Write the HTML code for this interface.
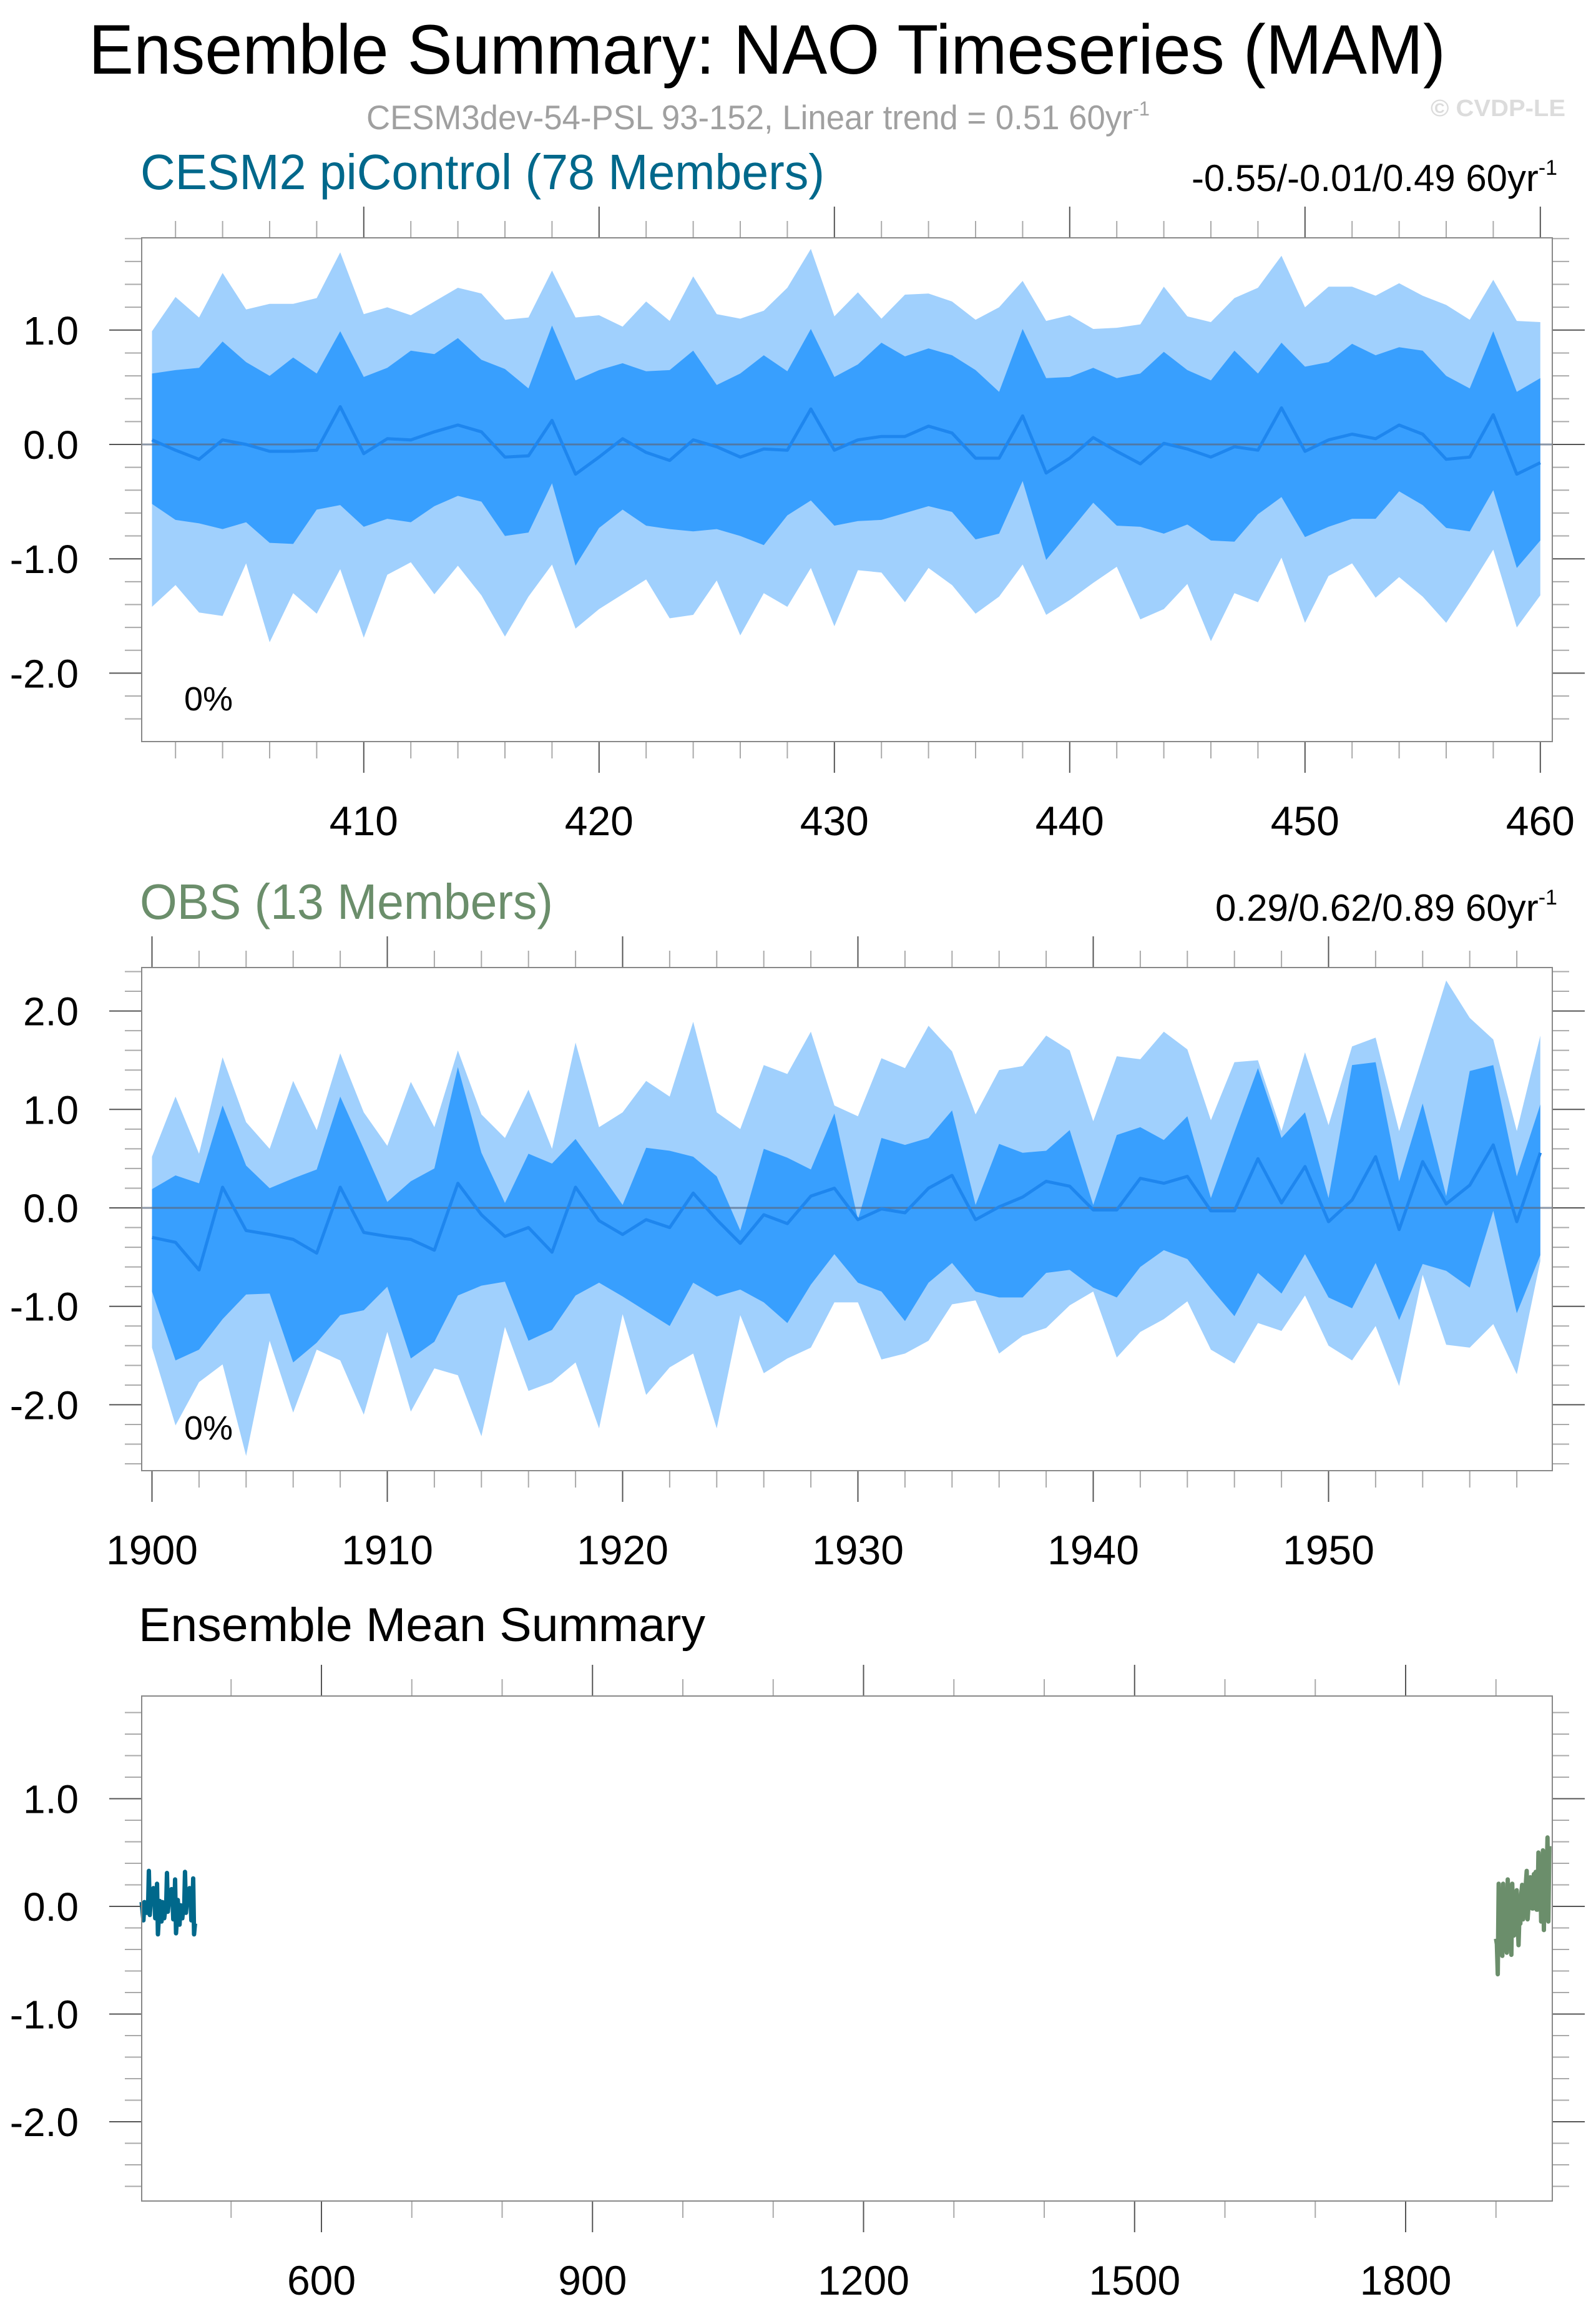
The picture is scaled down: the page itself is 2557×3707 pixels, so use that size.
<!DOCTYPE html>
<html><head><meta charset="utf-8">
<style>
html,body{margin:0;padding:0;background:#fff;}
svg{display:block;font-family:"Liberation Sans",sans-serif;}
</style></head>
<body>
<svg id="chart" width="2557" height="3707" viewBox="0 0 2557 3707" xmlns="http://www.w3.org/2000/svg">
<text x="142" y="118" font-size="112" textLength="2174" lengthAdjust="spacingAndGlyphs">Ensemble Summary: NAO Timeseries (MAM)</text>
<text x="587" y="207" font-size="55" fill="#a0a0a0" textLength="1255" lengthAdjust="spacingAndGlyphs">CESM3dev-54-PSL 93-152, Linear trend = 0.51 60yr<tspan dy="-22" font-size="32">-1</tspan></text>
<text x="2292" y="186" font-size="38" font-weight="bold" fill="#dcdcdc" textLength="216" lengthAdjust="spacingAndGlyphs">© CVDP-LE</text>

<text x="225" y="303" font-size="80" fill="#00688b" textLength="1096" lengthAdjust="spacingAndGlyphs">CESM2 piControl (78 Members)</text>
<text x="1909" y="306" font-size="60" fill="#000" textLength="586" lengthAdjust="spacingAndGlyphs">-0.55/-0.01/0.49 60yr<tspan dy="-26" font-size="34">-1</tspan></text>

<text x="224" y="1472" font-size="80" fill="#6b8e6b" textLength="662" lengthAdjust="spacingAndGlyphs">OBS (13 Members)</text>
<text x="1947" y="1475" font-size="60" fill="#000" textLength="548" lengthAdjust="spacingAndGlyphs">0.29/0.62/0.89 60yr<tspan dy="-26" font-size="34">-1</tspan></text>

<text x="222" y="2629" font-size="76" fill="#000" textLength="908" lengthAdjust="spacingAndGlyphs">Ensemble Mean Summary</text>

<g id="p1"></g>
<g id="p2"></g>
<g id="p3"></g>
</svg>
<script>
// ---- CESM2 piControl data (years 401-460) ----
const cesmYears0 = 401;
const cesmMax = [0.99,1.29,1.11,1.50,1.18,1.23,1.23,1.28,1.68,1.14,1.20,1.13,1.25,1.37,1.32,1.09,1.11,1.52,1.11,1.13,1.03,1.25,1.08,1.47,1.14,1.10,1.17,1.37,1.71,1.12,1.33,1.10,1.31,1.32,1.25,1.09,1.20,1.43,1.08,1.13,1.01,1.02,1.05,1.38,1.12,1.07,1.28,1.37,1.65,1.20,1.38,1.38,1.30,1.41,1.30,1.22,1.09,1.44,1.08,1.07];
const cesmHi = [0.62,0.65,0.67,0.90,0.72,0.60,0.76,0.62,0.99,0.59,0.67,0.82,0.79,0.93,0.74,0.66,0.49,1.04,0.56,0.65,0.71,0.64,0.65,0.82,0.52,0.62,0.78,0.64,1.01,0.59,0.70,0.89,0.77,0.84,0.78,0.65,0.46,1.01,0.58,0.59,0.67,0.58,0.62,0.81,0.65,0.56,0.82,0.62,0.89,0.68,0.72,0.88,0.78,0.85,0.82,0.60,0.49,0.99,0.46,0.58];
const cesmMean = [0.04,-0.05,-0.13,0.04,0.00,-0.06,-0.06,-0.05,0.33,-0.08,0.05,0.04,0.11,0.17,0.11,-0.11,-0.10,0.21,-0.26,-0.11,0.05,-0.07,-0.14,0.04,-0.02,-0.11,-0.04,-0.05,0.31,-0.05,0.04,0.07,0.07,0.16,0.10,-0.12,-0.12,0.25,-0.25,-0.12,0.06,-0.06,-0.17,0.01,-0.04,-0.11,-0.02,-0.05,0.32,-0.06,0.04,0.09,0.05,0.17,0.09,-0.13,-0.11,0.26,-0.26,-0.16];
const cesmLo = [-0.52,-0.66,-0.69,-0.74,-0.68,-0.86,-0.87,-0.57,-0.53,-0.72,-0.65,-0.68,-0.54,-0.45,-0.50,-0.80,-0.77,-0.34,-1.06,-0.73,-0.57,-0.71,-0.74,-0.76,-0.74,-0.80,-0.88,-0.62,-0.49,-0.71,-0.67,-0.66,-0.60,-0.54,-0.59,-0.83,-0.78,-0.32,-1.01,-0.76,-0.51,-0.71,-0.72,-0.78,-0.70,-0.84,-0.85,-0.61,-0.46,-0.81,-0.72,-0.65,-0.65,-0.41,-0.53,-0.73,-0.76,-0.40,-1.08,-0.84];
const cesmMin = [-1.42,-1.23,-1.47,-1.50,-1.04,-1.73,-1.30,-1.48,-1.09,-1.69,-1.14,-1.03,-1.31,-1.06,-1.32,-1.68,-1.33,-1.05,-1.61,-1.44,-1.31,-1.18,-1.52,-1.49,-1.19,-1.67,-1.30,-1.42,-1.08,-1.59,-1.10,-1.12,-1.38,-1.08,-1.23,-1.48,-1.33,-1.05,-1.49,-1.36,-1.21,-1.07,-1.53,-1.44,-1.22,-1.72,-1.30,-1.38,-0.99,-1.56,-1.15,-1.04,-1.34,-1.16,-1.33,-1.56,-1.25,-0.92,-1.60,-1.32];
// ---- OBS data (years 1900-1959) ----
const obsYears0 = 1900;
const obsMax = [0.52,1.13,0.55,1.53,0.87,0.60,1.29,0.79,1.57,0.97,0.63,1.28,0.82,1.60,0.95,0.71,1.20,0.60,1.68,0.82,0.97,1.29,1.13,1.89,0.97,0.80,1.45,1.36,1.79,1.04,0.93,1.52,1.42,1.85,1.59,0.95,1.40,1.44,1.75,1.60,0.88,1.54,1.51,1.79,1.61,0.89,1.48,1.50,0.78,1.58,0.84,1.64,1.73,0.78,1.54,2.31,1.93,1.71,0.78,1.75];
const obsHi = [0.19,0.33,0.25,1.04,0.43,0.20,0.30,0.39,1.13,0.60,0.06,0.27,0.40,1.43,0.56,0.05,0.55,0.45,0.70,0.37,0.03,0.61,0.58,0.52,0.32,-0.23,0.60,0.51,0.39,0.96,-0.12,0.71,0.64,0.71,0.99,0.03,0.65,0.56,0.58,0.79,0.03,0.74,0.82,0.69,0.93,0.10,0.77,1.42,0.71,0.97,0.10,1.45,1.48,0.27,1.06,0.12,1.39,1.45,0.32,1.05];
const obsMean = [-0.30,-0.35,-0.63,0.21,-0.23,-0.27,-0.32,-0.46,0.21,-0.25,-0.29,-0.32,-0.43,0.25,-0.07,-0.29,-0.20,-0.45,0.21,-0.13,-0.27,-0.12,-0.20,0.15,-0.12,-0.36,-0.07,-0.16,0.12,0.20,-0.12,-0.01,-0.05,0.20,0.33,-0.12,0.01,0.11,0.27,0.22,-0.02,-0.02,0.30,0.25,0.32,-0.03,-0.03,0.50,0.05,0.42,-0.14,0.08,0.52,-0.22,0.47,0.04,0.23,0.64,-0.14,0.56];
const obsLo = [-0.85,-1.55,-1.44,-1.13,-0.88,-0.87,-1.57,-1.37,-1.09,-1.04,-0.80,-1.53,-1.36,-0.89,-0.79,-0.75,-1.35,-1.24,-0.89,-0.76,-0.90,-1.05,-1.20,-0.76,-0.90,-0.83,-0.96,-1.17,-0.78,-0.47,-0.76,-0.85,-1.15,-0.76,-0.56,-0.85,-0.91,-0.91,-0.66,-0.63,-0.81,-0.91,-0.60,-0.43,-0.52,-0.82,-1.10,-0.66,-0.87,-0.47,-0.91,-1.02,-0.56,-1.14,-0.57,-0.64,-0.81,-0.03,-1.07,-0.48];
const obsMin = [-1.42,-2.21,-1.77,-1.59,-2.52,-1.35,-2.08,-1.44,-1.55,-2.10,-1.26,-2.07,-1.63,-1.70,-2.32,-1.21,-1.86,-1.77,-1.57,-2.24,-1.08,-1.90,-1.62,-1.48,-2.24,-1.09,-1.68,-1.53,-1.42,-0.96,-0.96,-1.54,-1.48,-1.35,-0.98,-0.94,-1.48,-1.30,-1.22,-0.99,-0.85,-1.52,-1.26,-1.13,-0.95,-1.44,-1.58,-1.17,-1.25,-0.89,-1.40,-1.55,-1.20,-1.81,-0.68,-1.39,-1.42,-1.18,-1.69,-0.54];
const xTicks1 = [410,420,430,440,450,460];
const xTicks2 = [1900,1910,1920,1930,1940,1950];
const xTicks3 = [600,900,1200,1500,1800];

const NS = "http://www.w3.org/2000/svg";
function mk(parent, tag, attrs){
  const e = document.createElementNS(NS, tag);
  for (const k in attrs) e.setAttribute(k, attrs[k]);
  parent.appendChild(e);
  return e;
}
const BL = 227, BR = 2487;

function axes(g, top, bottom, yMap, yMin, yMax, xMap, xMin, xMax, xMajor, xMinorStep, xMajorStep, name){
  for (let k = Math.ceil(yMin/0.2 - 1e-6); k <= Math.floor(yMax/0.2 + 1e-6); k++){
    const v = k*0.2, y = yMap(v);
    const major = Math.abs(v - Math.round(v)) < 1e-6;
    const len = major ? 52 : 27;
    const t1 = mk(g,'line',{x1:BL-len,x2:BL,y1:y,y2:y,stroke:major?'#555':'#aaa','stroke-width':2});
    
    
    const t2 = mk(g,'line',{x1:BR,x2:BR+len,y1:y,y2:y,stroke:major?'#555':'#aaa','stroke-width':2});
    
    
    if (major){
      const r = Math.round(v);
      const lbl = (r === 0 ? 0 : r).toFixed(1);
      const tx = mk(g,'text',{x:126,y:y+23,'font-size':64,'text-anchor':'end',fill:'#000'});
      tx.textContent = lbl;
      
      
    }
  }
  for (let yr = Math.ceil(xMin/xMinorStep)*xMinorStep; yr <= xMax; yr += xMinorStep){
    const x = xMap(yr);
    if (x < BL-1 || x > BR+1) continue;
    const major = (yr % xMajorStep) === 0;
    const len = major ? 50 : 27;
    const a = mk(g,'line',{x1:x,x2:x,y1:top-len,y2:top,stroke:major?'#555':'#aaa','stroke-width':2});
    
    
    const b = mk(g,'line',{x1:x,x2:x,y1:bottom,y2:bottom+len,stroke:major?'#555':'#aaa','stroke-width':2});
    
    
  }
  xMajor.forEach(yr=>{
    const tx = mk(g,'text',{x:xMap(yr),y:bottom+150,'font-size':66,'text-anchor':'middle',fill:'#000'});
    tx.textContent = String(yr);
    
    
  });
  const box = mk(g,'rect',{x:BL,y:top,width:BR-BL,height:bottom-top,fill:'none',stroke:'#888','stroke-width':2});
  
  
}

function bandPanel(g, name, year0, mx, hi, mean, lo, mn, top, bottom, zeroY, unit, xTicks){
  const xMap = yr => 243.5 + (yr - year0) * 37.7;
  const yMap = v => zeroY - v * unit;
  const n = mean.length;
  const band = (up, dn, color, nm) => {
    let d = '';
    for (let i=0;i<n;i++) d += (i?'L':'M') + xMap(year0+i).toFixed(1) + ',' + yMap(up[i]).toFixed(1);
    for (let i=n-1;i>=0;i--) d += 'L' + xMap(year0+i).toFixed(1) + ',' + yMap(dn[i]).toFixed(1);
    const p = mk(g,'path',{d:d+'Z',fill:color});
    
    
  };
  band(mx, mn, '#a0d0fd', name+'-min-max-band');
  band(hi, lo, '#389ffe', name+'-inner-band');
  const z = mk(g,'line',{x1:BL,x2:BR,y1:yMap(0),y2:yMap(0),stroke:'#5a6a80','stroke-width':3,'stroke-opacity':0.7});
  
  
  let d='';
  for (let i=0;i<n;i++) d += (i?'L':'M') + xMap(year0+i).toFixed(1) + ',' + yMap(mean[i]).toFixed(1);
  const ml = mk(g,'path',{d:d,fill:'none',stroke:'#1e86ee','stroke-width':5,'stroke-linejoin':'round'});
  
  
  const yMin = -(bottom - zeroY)/unit, yMax = (zeroY - top)/unit;
  axes(g, top, bottom, yMap, yMin, yMax, xMap, year0, year0+60, xTicks, 2, 10, name);
  const pct = mk(g,'text',{x:295,y:bottom-50,'font-size':54,fill:'#000'});
  pct.textContent = '0%';
  
  
}

bandPanel(document.getElementById('p1'),'cesm2',cesmYears0,cesmMax,cesmHi,cesmMean,cesmLo,cesmMin,381,1188,712,183.2,xTicks1);
bandPanel(document.getElementById('p2'),'obs',obsYears0,obsMax,obsHi,obsMean,obsLo,obsMin,1550,2356,1935,157.7,xTicks2);

(function(){
  const g = document.getElementById('p3');
  const top=2717, bottom=3526, zeroY=3054, unit=172.5;
  const xMap = yr => 515 + (yr - 600) * 1.4475;
  const yMap = v => zeroY - v*unit;
  const line = (y0, arr, color, nm) => {
    let d='';
    arr.forEach((v,i)=>{ d += (i?'L':'M') + xMap(y0+i).toFixed(1) + ',' + yMap(v).toFixed(1); });
    const p = mk(g,'path',{d:d,fill:'none',stroke:color,'stroke-width':7,'stroke-linejoin':'round'});
    
    
  };
  line(cesmYears0, cesmMean, '#00688b', 'cesm2-mean-line');
  line(obsYears0, obsMean, '#6b8e6b', 'obs-mean-line');
  axes(g, top, bottom, yMap, -(bottom-zeroY)/unit, (zeroY-top)/unit, xMap, 401, 1961, xTicks3, 100, 300, 'summary');
})();
</script>
</body></html>
